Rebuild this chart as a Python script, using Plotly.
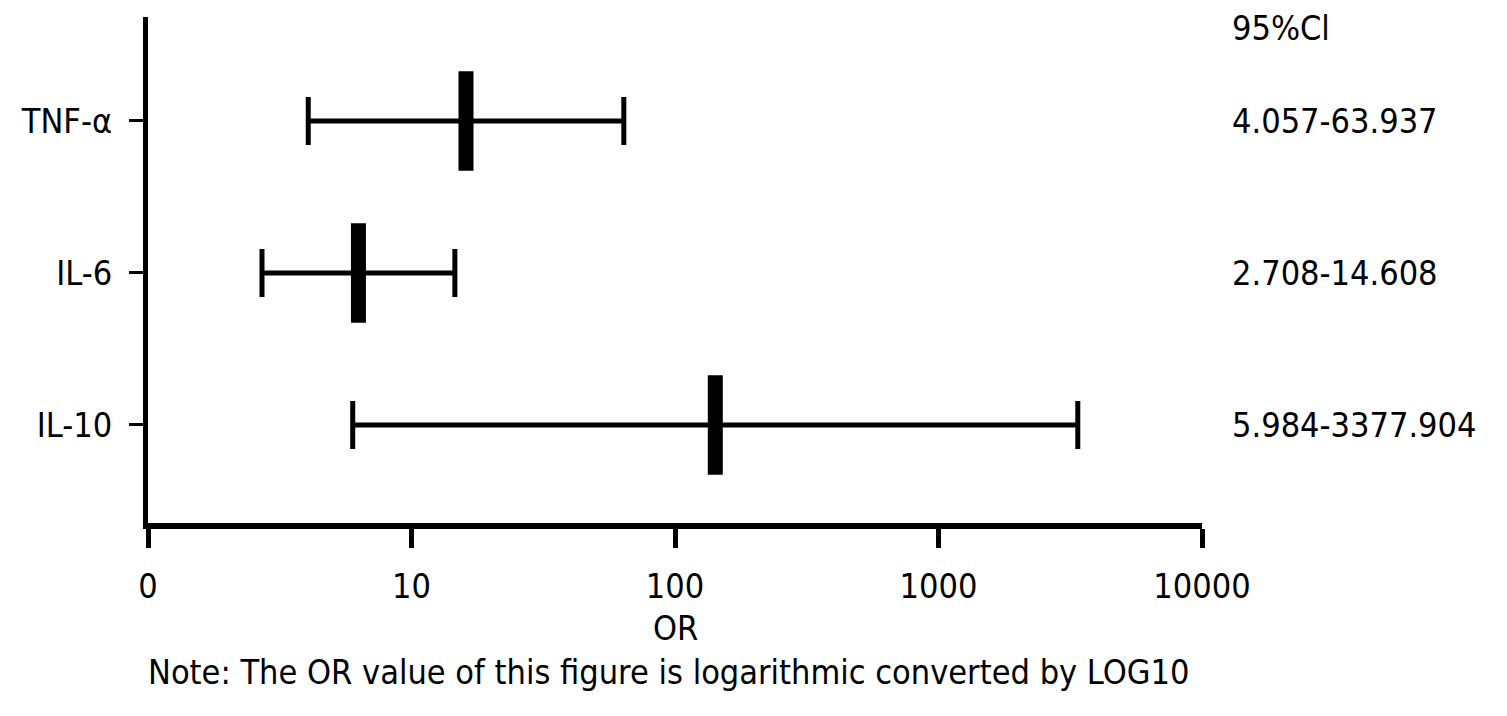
import plotly.graph_objects as go

# Data
markers = ["TNF-α", "IL-6", "IL-10"]
odds_ratio = [16.1, 6.29, 142.2]
ci_low = [4.057, 2.708, 5.984]
ci_high = [63.937, 14.608, 3377.904]
ci_text = ["4.057-63.937", "2.708-14.608", "5.984-3377.904"]

tick_vals = [1, 10, 100, 1000, 10000]
tick_text = ["0", "10", "100", "1000", "10000"]

FONT = "DejaVu Sans Condensed, DejaVu Sans, sans-serif"

err_plus = [h - o for h, o in zip(ci_high, odds_ratio)]
err_minus = [o - l for o, l in zip(odds_ratio, ci_low)]

fig = go.Figure()

fig.add_trace(go.Scatter(
    x=odds_ratio,
    y=markers,
    mode="markers",
    marker=dict(symbol="line-ns", size=71, color="black",
                line=dict(color="black", width=15)),
    error_x=dict(type="data", symmetric=False, array=err_plus,
                 arrayminus=err_minus, color="black",
                 thickness=5, width=24),
    showlegend=False,
))

# CI column on the right
fig.add_annotation(x=1.0266, xref="paper", y=2.612, yref="y",
                   text="95%Cl", showarrow=False, xanchor="left")
for m, t in zip(markers, ci_text):
    fig.add_annotation(x=1.0266, xref="paper", y=m, yref="y",
                       text=t, showarrow=False, xanchor="left")

fig.add_annotation(x=0.5, xref="paper", y=0, yref="paper", yshift=-105,
                   text="OR", showarrow=False, yanchor="middle")
fig.add_annotation(x=0.4934, xref="paper", y=0, yref="paper", yshift=-149,
                   text="Note: The OR value of this figure is logarithmic converted by LOG10",
                   showarrow=False, yanchor="middle")

fig.update_xaxes(
    type="log", range=[0, 4],
    tickvals=tick_vals, ticktext=tick_text,
    showline=True, linecolor="black", linewidth=6,
    ticks="outside", ticklen=19, tickwidth=5, tickcolor="black",
    ticklabelstandoff=9,
    showgrid=False, zeroline=False,
)
fig.update_yaxes(
    type="category", categoryorder="array",
    categoryarray=markers[::-1], range=[-0.645, 2.684],
    showline=True, linecolor="black", linewidth=5,
    ticks="outside", ticklen=14, tickwidth=3, tickcolor="black",
    ticklabelstandoff=10,
    showgrid=False, zeroline=False,
)

fig.update_layout(
    width=1507, height=716,
    margin=dict(l=140, r=313, t=9, b=201),
    paper_bgcolor="white", plot_bgcolor="white",
    font=dict(family=FONT, size=34, color="black"),
)

fig.write_html("out.html")
